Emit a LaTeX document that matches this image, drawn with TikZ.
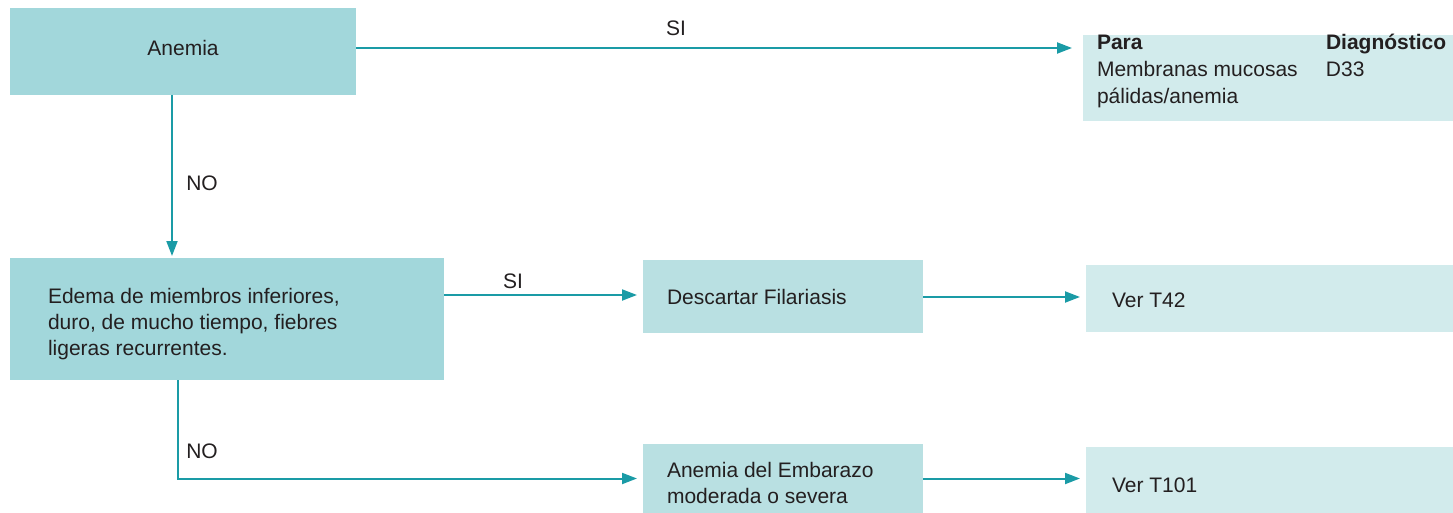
\documentclass[tikz,border=0pt]{standalone}
\usepackage{fontspec}
\setmainfont{Liberation Sans}
\usetikzlibrary{arrows.meta}
\definecolor{boxdark}{HTML}{A2D7DB}
\definecolor{boxmid}{HTML}{B9E0E2}
\definecolor{boxlight}{HTML}{D2EBEC}
\definecolor{lineteal}{HTML}{1A9BA6}
\definecolor{txt}{HTML}{231F20}
\newcommand\boxtxt[4]{\begin{minipage}[c]{#1pt}\vspace*{#2pt}#4\par\vspace*{#3pt}\end{minipage}}
\newcommand\boxtop[4]{\begin{minipage}[c][#2pt][t]{#1pt}\vspace*{#3pt}#4\end{minipage}}
\begin{document}
\begin{tikzpicture}[x=1pt,y=-1pt,
  every node/.style={text=txt,font=\fontsize{21}{26}\selectfont},
  fbox/.style={anchor=north west,inner sep=0pt,outer sep=0pt,draw=none},
  arr/.style={draw=lineteal,line width=2pt,-{Triangle[length=15pt,width=11pt]}},
  lbl/.style={inner sep=0pt}]
\useasboundingbox (0,0) rectangle (1453,513);
\node[fbox,fill=boxdark,minimum width=346pt,minimum height=87pt] (anemia) at (10,8)
  {\boxtxt{346}{0}{7}{\centering Anemia}};
\node[fbox,fill=boxlight,minimum width=370pt,minimum height=86pt] (para) at (1083,35)
  {\boxtop{342}{86}{-4}{\fontsize{21}{26.8}\selectfont\begin{tabular}{@{}p{229pt}@{}l@{}}
  \textbf{Para} & \textbf{Diagnóstico}\\
  Membranas mucosas & D33\\
  pálidas/anemia & \end{tabular}}};
\node[fbox,fill=boxdark,minimum width=434pt,minimum height=122pt] (edema) at (10,258)
  {\boxtxt{358}{10}{0}{Edema de miembros inferiores,\\ duro, de mucho tiempo, fiebres\\ ligeras recurrentes.}};
\node[fbox,fill=boxmid,minimum width=280pt,minimum height=73pt] (desc) at (643,260)
  {\boxtxt{232}{0}{0}{Descartar Filariasis}};
\node[fbox,fill=boxlight,minimum width=367pt,minimum height=67pt] (t42) at (1086,265)
  {\boxtxt{315}{3}{0}{Ver T42}};
\node[fbox,fill=boxmid,minimum width=280pt,minimum height=69pt] (emb) at (643,444)
  {\boxtxt{232}{9}{0}{Anemia del Embarazo\\ moderada o severa}};
\node[fbox,fill=boxlight,minimum width=367pt,minimum height=66pt] (t101) at (1086,447)
  {\boxtxt{315}{10}{0}{Ver T101}};
% connectors
\draw[arr,shorten >=11pt] ([yshift=3.5pt]anemia.east) -- ([yshift=3.5pt]anemia.east -| para.west);
\draw[arr,shorten >=2pt] (anemia.south -| 172,0) -- (edema.north -| 172,0);
\draw[arr,shorten >=6pt] (edema.east |- 0,295) -- (desc.west |- 0,295);
\draw[arr,shorten >=6pt] (desc.east |- 0,297) -- (t42.west |- 0,297);
\draw[arr,shorten >=6pt] (edema.south -| 178,0) |- (emb.west);
\draw[arr,shorten >=6pt] (emb.east) -- (emb.east -| t101.west);
% labels
\node[lbl] (si1) at (676,28) {SI};
\node[lbl] (no1) at (202,183) {NO};
\node[lbl] (si2) at (513,281) {SI};
\node[lbl] (no2) at (202,451) {NO};
\end{tikzpicture}
\end{document}
